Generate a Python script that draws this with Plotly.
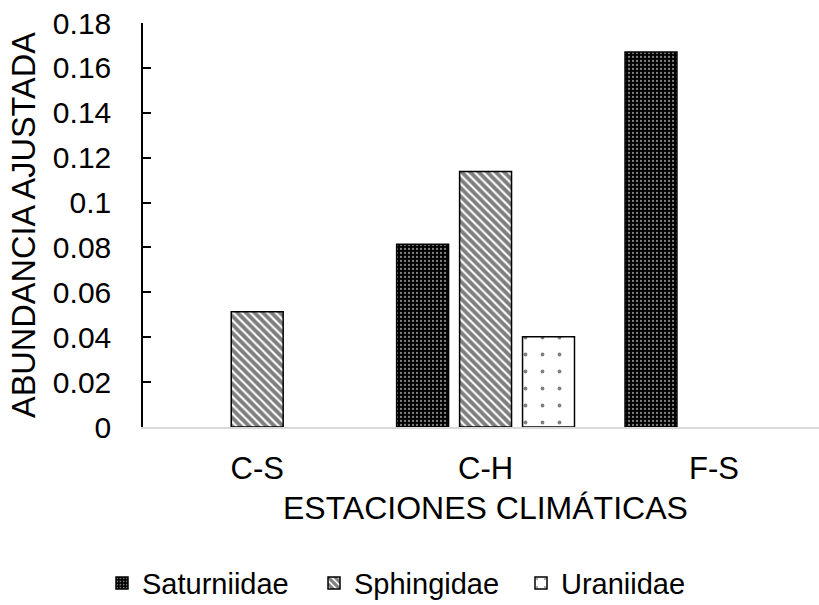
import plotly.graph_objects as go

categories = ["C-S", "C-H", "F-S"]
saturniidae = [None, 0.0814, 0.1671]
sphingidae = [0.0513, 0.1138, None]
uraniidae = [None, 0.0402, None]
y_ticks = [0, 0.02, 0.04, 0.06, 0.08, 0.1, 0.12, 0.14, 0.16, 0.18]
y_tick_text = ["0", "0.02", "0.04", "0.06", "0.08", "0.1", "0.12", "0.14", "0.16", "0.18"]

FONT = "Liberation Sans, Arial, sans-serif"

fig = go.Figure()
fig.add_trace(go.Bar(
    name="Saturniidae", x=categories, y=saturniidae, legend="legend",
    marker=dict(color="black", line=dict(color="black", width=1.5),
                pattern=dict(shape=".", bgcolor="black", fgcolor="white", size=4, solidity=0.25)),
))
fig.add_trace(go.Bar(
    name="Sphingidae", x=categories, y=sphingidae, legend="legend2",
    marker=dict(color="white", line=dict(color="black", width=1.5),
                pattern=dict(shape="\\", bgcolor="white", fgcolor="black", size=6, solidity=0.65)),
))
fig.add_trace(go.Bar(
    name="Uraniidae", x=categories, y=uraniidae, legend="legend3",
    marker=dict(color="white", line=dict(color="black", width=1.5),
                pattern=dict(shape=".", bgcolor="white", fgcolor="black", size=17, solidity=0.04)),
))

def leg(xpx):
    return dict(orientation="h", xref="container", yref="container",
                x=xpx / 819, xanchor="left", y=0.036, yanchor="middle",
                font=dict(size=29), itemwidth=30, bgcolor="rgba(0,0,0,0)")

fig.update_layout(
    width=819, height=605,
    margin=dict(l=143, r=0, t=23, b=178),
    paper_bgcolor="white", plot_bgcolor="white",
    barmode="group", bargap=0.173, bargroupgap=0.175,
    font=dict(family=FONT, size=29, color="black"),
    showlegend=True,
    legend=leg(121 - 19),
    legend2=leg(333 - 19),
    legend3=leg(540 - 19),
    xaxis=dict(
        range=[-0.5, 2.46], showline=True, linecolor="#d9d9d9", linewidth=1.5,
        ticks="", showgrid=False, tickfont=dict(size=31), ticklabelstandoff=13,
        zeroline=False,
    ),
    yaxis=dict(
        range=[0, 0.18], tickvals=y_ticks, ticktext=y_tick_text,
        showline=True, linecolor="black", linewidth=1.5,
        ticks="inside", ticklen=8, tickcolor="black", tickwidth=1.5,
        showgrid=False, zeroline=False, tickfont=dict(size=30), ticklabelstandoff=24,
    ),
    annotations=[
        dict(text="ESTACIONES CLIMÁTICAS", xref="paper", yref="paper",
             x=1.5 / 2.96, y=-0.2, showarrow=False,
             xanchor="center", yanchor="middle", font=dict(size=32)),
        dict(text="ABUNDANCIA AJUSTADA", xref="paper", yref="paper",
             x=0, y=0.5, xshift=-119, showarrow=False, textangle=-90,
             xanchor="center", yanchor="middle", font=dict(size=32.5)),
    ],
)

fig.write_html("out.html")
